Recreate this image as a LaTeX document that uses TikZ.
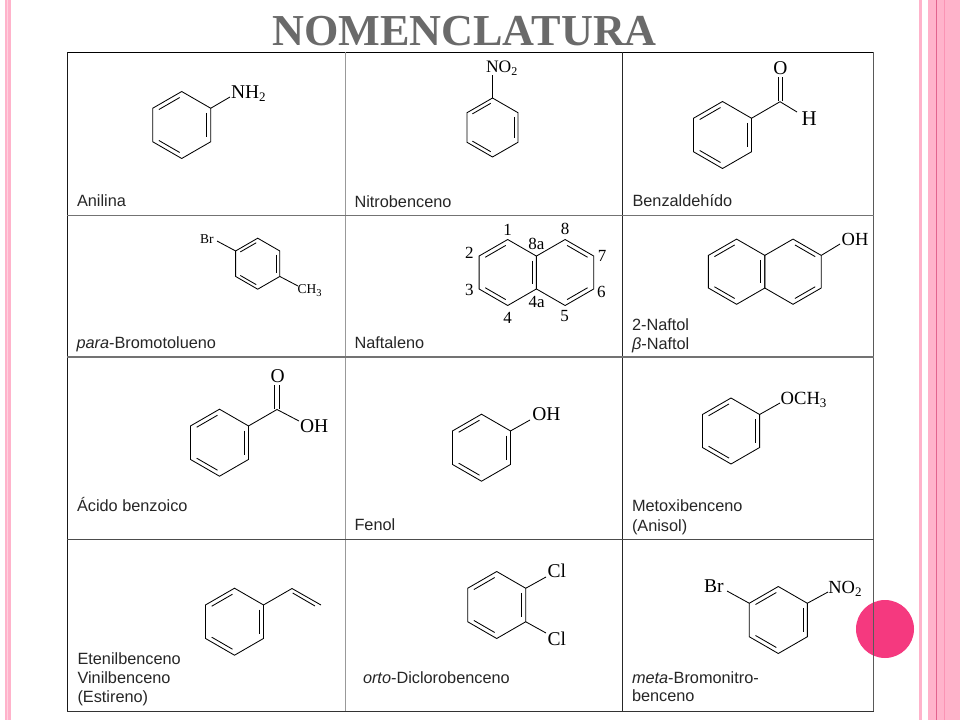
\documentclass[tikz,border=0pt]{standalone}
\usepackage{fontspec}
\setmainfont{Liberation Sans}
\newfontfamily\serifchem{Liberation Serif}
\usetikzlibrary{calc}
\definecolor{stripe}{HTML}{FFB3CB}
\definecolor{stripedark}{HTML}{E2638F}
\definecolor{stripemid}{HTML}{FB94B5}
\definecolor{stripepale}{HTML}{FFD3E0}
\definecolor{dotpink}{HTML}{F5397F}
\definecolor{titlegray}{HTML}{6A6A6A}
\tikzset{
  bond/.style={draw=black,line width=0.85pt,line join=miter},
  name label/.style={anchor=base west,inner sep=0pt,outer sep=0pt,font=\fontsize{16.3}{16.3}\selectfont,text=black!85},
  atom/.style={anchor=base west,inner sep=0pt,outer sep=0pt,font=\serifchem\fontsize{19.5}{19.5}\selectfont},
  atom small/.style={atom,font=\serifchem\fontsize{17.5}{17.5}\selectfont},
  atom tiny/.style={atom,font=\serifchem\fontsize{13.5}{13.5}\selectfont},
  locant/.style={anchor=center,inner sep=0pt,outer sep=0pt,font=\serifchem\fontsize{17}{17}\selectfont},
}
\newcommand{\subtwo}{\raisebox{-3pt}{\fontsize{13}{13}\selectfont 2}}
\newcommand{\subthree}{\raisebox{-3pt}{\fontsize{13}{13}\selectfont 3}}
\newcommand{\subthreesmall}{\raisebox{-2.5pt}{\fontsize{10.5}{10.5}\selectfont 3}}
% centre x, centre y, radius, start angles of double bonds, name prefix
\newcommand{\ringat}[5]{%
  \begin{scope}[shift={(#1,#2)},y=1pt]
    \coordinate (#5a90) at (90:#3);
    \coordinate (#5a30) at (30:#3);
    \coordinate (#5b30) at (-30:#3);
    \coordinate (#5b90) at (-90:#3);
    \coordinate (#5b150) at (-150:#3);
    \coordinate (#5a150) at (150:#3);
    \draw[bond] (#5a90)--(#5a30)--(#5b30)--(#5b90)--(#5b150)--(#5a150)--cycle;
    \foreach \a in {#4} {
      \pgfmathsetmacro{\aa}{\a-60}
      \pgfmathsetmacro{\rr}{#3*0.855}
      \draw[bond] ($(\a:\rr)!0.08!(\aa:\rr)$) -- ($(\a:\rr)!0.92!(\aa:\rr)$);
    }
  \end{scope}%
}
\begin{document}
\begin{tikzpicture}[x=1pt,y=-1pt]
\useasboundingbox (0,0) rectangle (960,720);
\fill[white] (0,0) rectangle (960,720);
% side stripes
\fill[stripe] (5,0) rectangle (11,720);
\fill[stripepale] (6.5,0) rectangle (8,720);
\fill[stripe] (918.5,0) rectangle (922,720);
\fill[stripe] (928,0) rectangle (960,720);
\fill[stripedark] (936,0) rectangle (937.2,720);
\fill[stripemid] (943.5,0) rectangle (945,720);
% dot
\fill[dotpink] (885,629) circle (29);
% title
\node[anchor=base,inner sep=0pt,text=titlegray,font=\serifchem\bfseries\fontsize{44.2}{44.2}\selectfont] (title) at (464.5,45.7) {NOMENCLATURA};
% grid
\draw[line width=1pt,black] (67,52.5) -- (873.5,52.5);
\draw[line width=1pt,black!90] (67.5,52) -- (67.5,711.5);
\draw[line width=1pt,black!40] (345,52) -- (345,711.5);
\draw[line width=1pt,black!85] (622.5,52) -- (622.5,711.5);
\draw[line width=1pt,black!65] (873.5,52) -- (873.5,711.5);
\draw[line width=1.5pt,black!55] (67,215.5) -- (873.5,215.5);
\draw[line width=1.5pt,black!55] (67,357) -- (873.5,357);
\draw[line width=1pt,black!70] (67,539.5) -- (873.5,539.5);
\draw[line width=1pt,black!80] (67,711) -- (873.5,711);
% Anilina
\ringat{181.7}{125}{33.5}{150,30,-90}{an}
\node[atom] (anNH) at (231,98) {NH\subtwo};
\draw[bond] (ana30) -- (230,97) coordinate (anE);
\node[name label] (anN) at (77,206.7) {Anilina};
% Nitrobenceno
\ringat{492.5}{127.5}{29.5}{150,30,-90}{nb}
\node[atom small] (nbN) at (486,72.7) {NO\raisebox{-3pt}{\fontsize{12}{12}\selectfont 2}};
\draw[bond] (nba90) -- (492.5,75) coordinate (nbE);
\node[name label] (nbT) at (354.5,207.7) {Nitrobenceno};
% Benzaldehido
\ringat{722.5}{135}{33.5}{150,30,-90}{ba}
\draw[bond] (baa30) -- (780,101.7) coordinate (baC);
\draw[bond] (baC) -- (797,112) coordinate (baE);
\draw[bond] (778,101) -- (778,77) coordinate (baO1);
\draw[bond] (782.5,101) -- (782.5,77) coordinate (baO2);
\node[atom] (baOx) at (773.3,74.7) {O};
\node[atom,font=\serifchem\fontsize{21}{21}\selectfont] (baH) at (801.7,125) {H};
\node[name label] (baT) at (632.5,206.7) {Benzaldehído};
% para-Bromotolueno
\ringat{257.7}{263.7}{25.5}{150,30,-90}{pb}
\node[atom tiny] (pbBr) at (200,243.3) {Br};
\node[atom tiny] (pbC) at (297.5,293.7) {CH\subthreesmall};
\draw[bond] (pba150) -- (217,241) coordinate (pbE1);
\draw[bond] (pbb30) -- (298,286) coordinate (pbE2);
\node[name label] (pbT) at (76.5,348.5) {\textit{para}-Bromotolueno};
% Naftaleno
\ringat{507.7}{272.5}{33}{150,30,-90}{nl}
\ringat{565.1}{272.5}{33}{90,-30}{nr}
\node[locant] (l1) at (507.7,229.7) {1};
\node[locant] (l2) at (469.3,253.3) {2};
\node[locant] (l3) at (469.3,290) {3};
\node[locant] (l4) at (507.7,318.3) {4};
\node[locant] (l8a) at (536.3,244.3) {8a};
\node[locant] (l4a) at (536.7,302.3) {4a};
\node[locant] (l8) at (565,229.3) {8};
\node[locant] (l7) at (602,255.7) {7};
\node[locant] (l6) at (601.3,292.3) {6};
\node[locant] (l5) at (564.7,316) {5};
\node[name label] (nlT) at (354.5,348.5) {Naftaleno};
% 2-Naftol
\ringat{736.6}{271.7}{32.6}{150,30,-90}{tl}
\ringat{793}{271.7}{32.6}{90,-30}{tr}
\draw[bond] (tra30) -- (840,244) coordinate (trE);
\node[atom small,font=\serifchem\fontsize{18.5}{18.5}\selectfont] (trOH) at (841.7,245) {OH};
\node[name label] (trT1) at (632,330) {2-Naftol};
\node[name label] (trT2) at (632,349) {\textit{β}-Naftol};
% Acido benzoico
\ringat{219.5}{442.7}{33.5}{150,30,-90}{ab}
\draw[bond] (aba30) -- (277,409.5) coordinate (abC);
\draw[bond] (abC) -- (299,421) coordinate (abE);
\draw[bond] (274.8,409) -- (274.8,385) coordinate (abO1);
\draw[bond] (279.2,409) -- (279.2,385) coordinate (abO2);
\node[atom] (abOx) at (270.5,382.3) {O};
\node[atom] (abOH) at (300,432.3) {OH};
\node[name label] (abT) at (77,511.7) {Ácido benzoico};
% Fenol
\ringat{481.5}{447.7}{33.5}{150,30,-90}{fe}
\draw[bond] (fea30) -- (530,420) coordinate (feE);
\node[atom] (feOH) at (532.3,420.7) {OH};
\node[name label] (feT) at (354.5,530.7) {Fenol};
% Metoxibenceno
\ringat{731}{431}{33}{150,30,-90}{me}
\draw[bond] (mea30) -- (780,403) coordinate (meE);
\node[atom,font=\serifchem\fontsize{18.6}{18.6}\selectfont] (meO) at (780.7,404.3) {OCH\subthree};
\node[name label] (meT1) at (632,511.7) {Metoxibenceno};
\node[name label] (meT2) at (632,531) {(Anisol)};
% Estireno
\ringat{234.5}{621.7}{33.5}{150,30,-90}{es}
\draw[bond] (esa30) -- (292,588.5) coordinate (esC);
\draw[bond] (esC) -- (321,605) coordinate (esE1);
\draw[bond] (292.7,593) -- (315,606) coordinate (esE2);
\node[name label] (esT1) at (77.5,664) {Etenilbenceno};
\node[name label] (esT2) at (77.5,683.3) {Vinilbenceno};
\node[name label] (esT3) at (77.5,702.3) {(Estireno)};
% orto-Diclorobenceno
\ringat{496.7}{605}{33.5}{150,30,-90}{or}
\draw[bond] (ora30) -- (546,577) coordinate (orE1);
\draw[bond] (orb30) -- (546,633) coordinate (orE2);
\node[atom] (orC1) at (547.7,577.7) {Cl};
\node[atom] (orC2) at (547.7,645) {Cl};
\node[name label] (orT) at (363,683.3) {\textit{orto}-Diclorobenceno};
% meta-Bromonitrobenceno
\ringat{778.3}{620}{33.5}{150,30,-90}{mb}
\draw[bond] (mba150) -- (727,591) coordinate (mbE1);
\draw[bond] (mba30) -- (828,592) coordinate (mbE2);
\node[atom] (mbBr) at (704,592.7) {Br};
\node[atom small,font=\serifchem\fontsize{18.5}{18.5}\selectfont] (mbN) at (828.3,593) {NO\subtwo};
\node[name label] (mbT1) at (632,683.3) {\textit{meta}-Bromonitro-};
\node[name label] (mbT2) at (632,701.7) {benceno};
\end{tikzpicture}
\end{document}
